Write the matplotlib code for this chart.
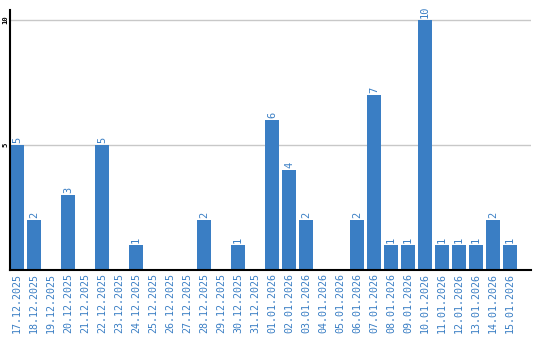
import matplotlib
matplotlib.use('Agg')
import matplotlib.pyplot as plt

dates = ['17.12.2025', '18.12.2025', '19.12.2025', '20.12.2025', '21.12.2025',
         '22.12.2025', '23.12.2025', '24.12.2025', '25.12.2025', '26.12.2025',
         '27.12.2025', '28.12.2025', '29.12.2025', '30.12.2025', '31.12.2025',
         '01.01.2026', '02.01.2026', '03.01.2026', '04.01.2026', '05.01.2026',
         '06.01.2026', '07.01.2026', '08.01.2026', '09.01.2026', '10.01.2026',
         '11.01.2026', '12.01.2026', '13.01.2026', '14.01.2026', '15.01.2026']
counts = [5, 2, 0, 3, 0, 5, 0, 1, 0, 0, 0, 2, 0, 1, 0,
          6, 4, 2, 0, 0, 2, 7, 1, 1, 10, 1, 1, 1, 2, 1]
yticks = [5, 10]

blue = '#3a7ec4'
mono = 'DejaVu Sans Mono'

fig = plt.figure(figsize=(5.4, 3.4), dpi=100)
ax = fig.add_axes([10 / 540, 70 / 340, 521 / 540, 260 / 340])

x = list(range(len(dates)))
ax.bar(x, counts, width=0.82, color=blue, zorder=2)

for xi, v in zip(x, counts):
    if v > 0:
        ax.text(xi, v + 0.08, str(v), rotation=90, ha='center', va='bottom',
                color=blue, family=mono, fontsize=7.5)

ax.set_xlim(-0.41, 30.24)
ax.set_ylim(0, 10.4)
ax.set_xticks(x)
ax.set_xticklabels(dates, rotation=90, family=mono, fontsize=7.2, color=blue)
ax.set_yticks(yticks)
ax.set_yticklabels([str(t) for t in yticks], rotation=90, family=mono,
                   fontsize=5.2, fontweight='bold', va='center')
ax.tick_params(axis='x', length=0, pad=2)
ax.tick_params(axis='y', length=0, pad=1)
ax.grid(axis='y', color='#c8c8c8', linewidth=1, zorder=0)

for side in ('top', 'right'):
    ax.spines[side].set_visible(False)
ax.spines['left'].set_linewidth(1.5)
ax.spines['bottom'].set_linewidth(1.5)

fig.savefig('out.png', dpi=100, facecolor='white')
